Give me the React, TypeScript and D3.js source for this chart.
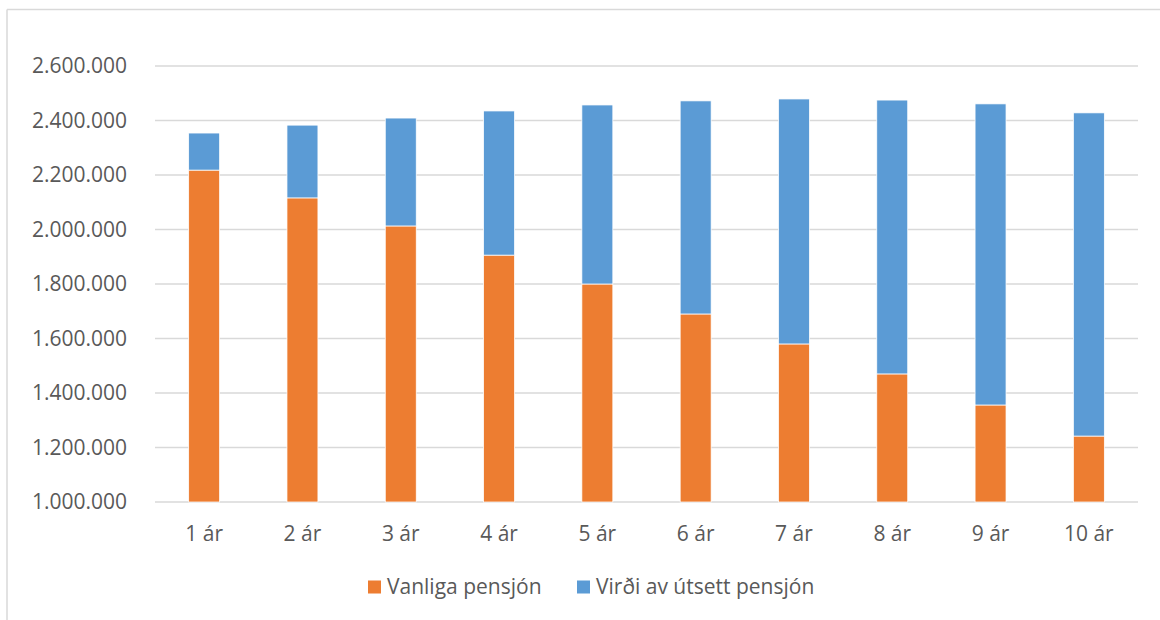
import React from "react";
import * as d3 from "d3";

const categories = ["1 ár", "2 ár", "3 ár", "4 ár", "5 ár", "6 ár", "7 ár", "8 ár", "9 ár", "10 ár"];
const vanliga = [2218000, 2116000, 2013000, 1906000, 1800000, 1690000, 1580000, 1470000, 1356000, 1242000];
const virdi = [136000, 267000, 396000, 529000, 657000, 782000, 899000, 1005000, 1105000, 1186000];
const yTicks = [1000000, 1200000, 1400000, 1600000, 1800000, 2000000, 2200000, 2400000, 2600000];
const seriesNames = ["Vanliga pensjón", "Virði av útsett pensjón"];
const seriesColors = ["#ED7D31", "#5B9BD5"];

const W = 1160;
const H = 620;
const FONT = "'Open Sans', 'Liberation Sans', sans-serif";
const TEXT = "#595959";
const GRID = "#D9D9D9";

export default function App() {
  const left = 155, right = 1138, top = 66, bottom = 502;
  const x = d3.scaleBand<string>().domain(categories).range([left, right]).paddingInner(0.685).paddingOuter(0.3425);
  const y = d3.scaleLinear().domain([1000000, 2600000]).range([bottom, top]).clamp(true);
  const loc = d3.formatLocale({ decimal: ",", thousands: ".", grouping: [3], currency: ["", ""] });
  const fmt = loc.format(",");

  const rows = categories.map((c, i) => ({ cat: c, a: vanliga[i], b: virdi[i] }));
  const stack = d3.stack<any>().keys(["a", "b"]);
  const layers = stack(rows);

  const legendY = 587;
  const legendItems = [
    { x: 368, label: seriesNames[0], color: seriesColors[0] },
    { x: 577, label: seriesNames[1], color: seriesColors[1] },
  ];

  return (
    <svg width={W} height={H} style={{ position: "absolute", left: 0, top: 0, background: "#fff" }}>
      <rect x={0} y={0} width={W} height={H} fill="#fff" />
      <line x1={7} y1={9.5} x2={W} y2={9.5} stroke={GRID} strokeWidth={1.5} />
      <line x1={7} y1={9.5} x2={7} y2={H} stroke={GRID} strokeWidth={1.5} />
      {yTicks.map((t) => (
        <g key={t}>
          <line x1={left} x2={right} y1={y(t)} y2={y(t)} stroke={GRID} strokeWidth={1.3} />
          <text x={127} y={y(t)} dy="0.35em" textAnchor="end" fontFamily={FONT} fontSize={21} fill={TEXT}>
            {fmt(t)}
          </text>
        </g>
      ))}
      {layers.map((layer, li) => (
        <g key={li} fill={seriesColors[li]}>
          {layer.map((d, i) => (
            <rect
              key={i}
              x={x(categories[i])!}
              width={x.bandwidth()}
              y={y(d[1])}
              height={y(d[0]) - y(d[1])}
              stroke="#fff"
              strokeWidth={0.75}
            />
          ))}
        </g>
      ))}
      {categories.map((c) => (
        <text key={c} x={x(c)! + x.bandwidth() / 2} y={541} textAnchor="middle" fontFamily={FONT} fontSize={21} fill={TEXT}>
          {c}
        </text>
      ))}
      {legendItems.map((it) => (
        <g key={it.label}>
          <rect x={it.x} y={legendY - 6.5} width={13} height={13} fill={it.color} />
          <text x={it.x + 19} y={legendY} dy="0.35em" fontFamily={FONT} fontSize={21} fill={TEXT}>
            {it.label}
          </text>
        </g>
      ))}
    </svg>
  );
}
